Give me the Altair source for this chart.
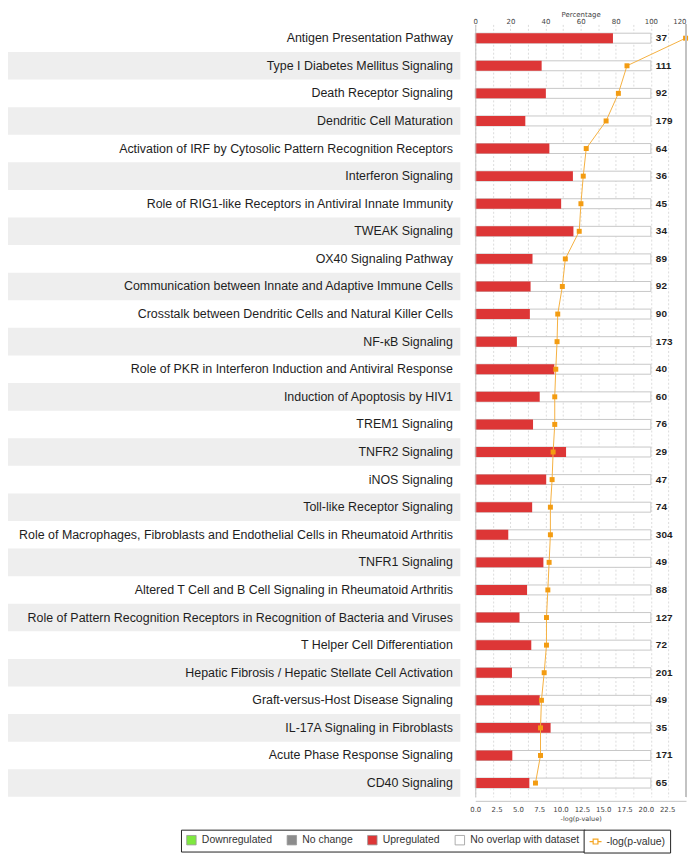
import altair as alt
import pandas as pd

pathways = [
    "Antigen Presentation Pathway",
    "Type I Diabetes Mellitus Signaling",
    "Death Receptor Signaling",
    "Dendritic Cell Maturation",
    "Activation of IRF by Cytosolic Pattern Recognition Receptors",
    "Interferon Signaling",
    "Role of RIG1-like Receptors in Antiviral Innate Immunity",
    "TWEAK Signaling",
    "OX40 Signaling Pathway",
    "Communication between Innate and Adaptive Immune Cells",
    "Crosstalk between Dendritic Cells and Natural Killer Cells",
    "NF-κB Signaling",
    "Role of PKR in Interferon Induction and Antiviral Response",
    "Induction of Apoptosis by HIV1",
    "TREM1 Signaling",
    "TNFR2 Signaling",
    "iNOS Signaling",
    "Toll-like Receptor Signaling",
    "Role of Macrophages, Fibroblasts and Endothelial Cells in Rheumatoid Arthritis",
    "TNFR1 Signaling",
    "Altered T Cell and B Cell Signaling in Rheumatoid Arthritis",
    "Role of Pattern Recognition Receptors in Recognition of Bacteria and Viruses",
    "T Helper Cell Differentiation",
    "Hepatic Fibrosis / Hepatic Stellate Cell Activation",
    "Graft-versus-Host Disease Signaling",
    "IL-17A Signaling in Fibroblasts",
    "Acute Phase Response Signaling",
    "CD40 Signaling",
]

# percentage of pathway genes that are upregulated
up_pct = [78.4, 37.8, 40.2, 28.5, 42.2, 55.6, 48.9, 55.9, 32.6, 31.5, 31.1, 23.7, 45.0, 36.7,
          32.9, 51.7, 40.4, 32.4, 18.8, 38.8, 29.5, 25.2, 31.9, 20.9, 36.7, 42.9, 21.1, 30.8]

# total number of genes in each pathway
totals = [37, 111, 92, 179, 64, 36, 45, 34, 89, 92, 90, 173, 40, 60,
          76, 29, 47, 74, 304, 49, 88, 127, 72, 201, 49, 35, 171, 65]

# -log(p-value)
neglogp = [24.66, 17.79, 16.78, 15.34, 13.01, 12.66, 12.39, 12.19, 10.56, 10.21, 9.67, 9.59, 9.44, 9.32,
           9.32, 9.13, 9.01, 8.81, 8.81, 8.66, 8.51, 8.35, 8.35, 8.08, 7.76, 7.65, 7.65, 7.06]

status_domain = ["Downregulated", "No change", "Upregulated", "No overlap with dataset"]
status_colors = ["#7ee83f", "#8c8c8c", "#dd3636", "#ffffff"]
series_name = ["-log(p-value)"]

pct_ticks = list(range(0, 121, 10))
nlp_ticks = [0, 2.5, 5, 7.5, 10, 12.5, 15, 17.5, 20, 22.5]

df = pd.DataFrame({"pathway": pathways, "up": up_pct, "total": totals, "nlp": neglogp})
df["full"] = 100.0
df["zero"] = 0.0
df["status_up"] = "Upregulated"
df["status_none"] = "No overlap with dataset"
df["series"] = series_name[0]
df["row"] = list(range(len(df)))
df["shaded"] = df["row"] % 2 == 1

W, H = 212, 777
LY = 810
SMALL_FONT = "DejaVu Sans"
MAIN_FONT = "Liberation Sans"

y_enc = alt.Y(
    "pathway:N", sort=pathways,
    scale=alt.Scale(paddingInner=0, paddingOuter=0),
    axis=alt.Axis(title=None, labelFontSize=12.5, labelFont=MAIN_FONT, labelColor="#1e1e1e",
                  labelPadding=23, labelLimit=0, ticks=False, tickSize=0,
                  domainColor="#c4c4c4", zindex=1),
)

pct_scale = alt.Scale(domain=[0, 120], nice=False, zero=True)
pct_axis = alt.Axis(orient="top", title="Percentage", values=pct_ticks,
                    labelFontSize=7, titleFontSize=7, titleFontWeight="normal",
                    labelFont=SMALL_FONT, titleFont=SMALL_FONT, labelFlush=False,
                    labelAlign={"condition": {"test": "datum.value >= 120", "value": "right"},
                                "value": "center"},
                    labelColor="#444", titleColor="#444", titlePadding=0, labelPadding=0,
                    ticks=False, tickSize=0, domain=False, grid=True, gridDash=[2, 2],
                    gridColor="#dcdcdc")

nlp_scale = alt.Scale(domain=[0, 24.71], nice=False, zero=True)
nlp_axis = alt.Axis(orient="bottom", title="-log(p-value)", values=nlp_ticks, format=".1f",
                    labelFontSize=7, titleFontSize=6.5, titleFontWeight="normal",
                    labelFont=SMALL_FONT, titleFont=SMALL_FONT, labelFlush=False,
                    labelColor="#444", titleColor="#444", grid=False, domainColor="#c4c4c4",
                    ticks=False, tickSize=0, labelPadding=5, titlePadding=3, offset=4)

color_scale = alt.Scale(domain=status_domain, range=status_colors)
legend1 = alt.Legend(title=None, orient="none", legendX=-296, legendY=LY, direction="horizontal",
                     columns=4, columnPadding=13, symbolType="square", symbolSize=90,
                     symbolStrokeColor="#999999", symbolStrokeWidth=0.8, symbolOpacity=1,
                     labelFontSize=10.5, labelFont=MAIN_FONT, labelColor="#333",
                     labelOffset=5, padding=5, strokeColor="#222", fillColor="white")

legend_path = "M-1,0L-0.4,0M0.4,0L1,0M-0.4,-0.4L0.4,-0.4L0.4,0.4L-0.4,0.4Z"
legend2 = alt.Legend(title=None, orient="none", legendX=109, legendY=LY,
                     symbolSize=144, symbolFillColor="#f39c12", symbolStrokeColor="#f5a623",
                     symbolStrokeWidth=1.2, symbolOpacity=1,
                     labelFontSize=10.5, labelFont=MAIN_FONT, labelColor="#333",
                     labelOffset=4, padding=5, strokeColor="#222", fillColor="white")

base = alt.Chart(df)

bands = base.transform_filter("datum.shaded").mark_rect(color="#eeeeee").encode(
    y=y_enc, x=alt.value(-470), x2=alt.value(-15)
)

white_bars = base.mark_bar(size=10, stroke="#c8c8c8", strokeWidth=1).encode(
    x=alt.X("zero:Q", scale=pct_scale, axis=pct_axis),
    x2="full:Q",
    y=y_enc,
    color=alt.Color("status_none:N", scale=color_scale, legend=legend1),
)
red_bars = base.mark_bar(size=10).encode(
    x=alt.X("up:Q", scale=pct_scale, axis=pct_axis),
    y=y_enc,
    color=alt.Color("status_up:N", scale=color_scale, legend=legend1),
)
counts = base.mark_text(align="left", baseline="middle", dx=5, fontSize=10, fontWeight="bold",
                        font=MAIN_FONT, color="#1e1e1e").encode(
    x=alt.X("full:Q", scale=pct_scale, axis=pct_axis),
    y=y_enc,
    text="total:N",
)
pct_group = alt.layer(white_bars, red_bars, counts)

line = base.mark_line(color="#f5b041", strokeWidth=1).encode(
    x=alt.X("nlp:Q", scale=nlp_scale, axis=nlp_axis),
    y=y_enc,
    order="row:Q",
)
pts = base.mark_square(size=25, color="#f39c12", opacity=1).encode(
    x=alt.X("nlp:Q", scale=nlp_scale, axis=nlp_axis),
    y=y_enc,
)
legend_dummy = base.mark_point(opacity=0).encode(
    x=alt.X("nlp:Q", scale=nlp_scale, axis=nlp_axis),
    y=y_enc,
    shape=alt.Shape("series:N", scale=alt.Scale(domain=series_name, range=[legend_path]),
                    legend=legend2),
)
nlp_group = alt.layer(line, pts, legend_dummy)

frame_right = base.mark_rule(color="#c4c4c4").encode(
    x=alt.value(W), y=alt.value(0), y2=alt.value(H)
)

chart = (
    alt.layer(bands, pct_group, nlp_group, frame_right)
    .resolve_scale(x="independent")
    .properties(width=W, height=H, padding=0)
    .configure_view(stroke=None)
)

chart.save("out.html", embed_options={"renderer": "svg", "actions": False})
